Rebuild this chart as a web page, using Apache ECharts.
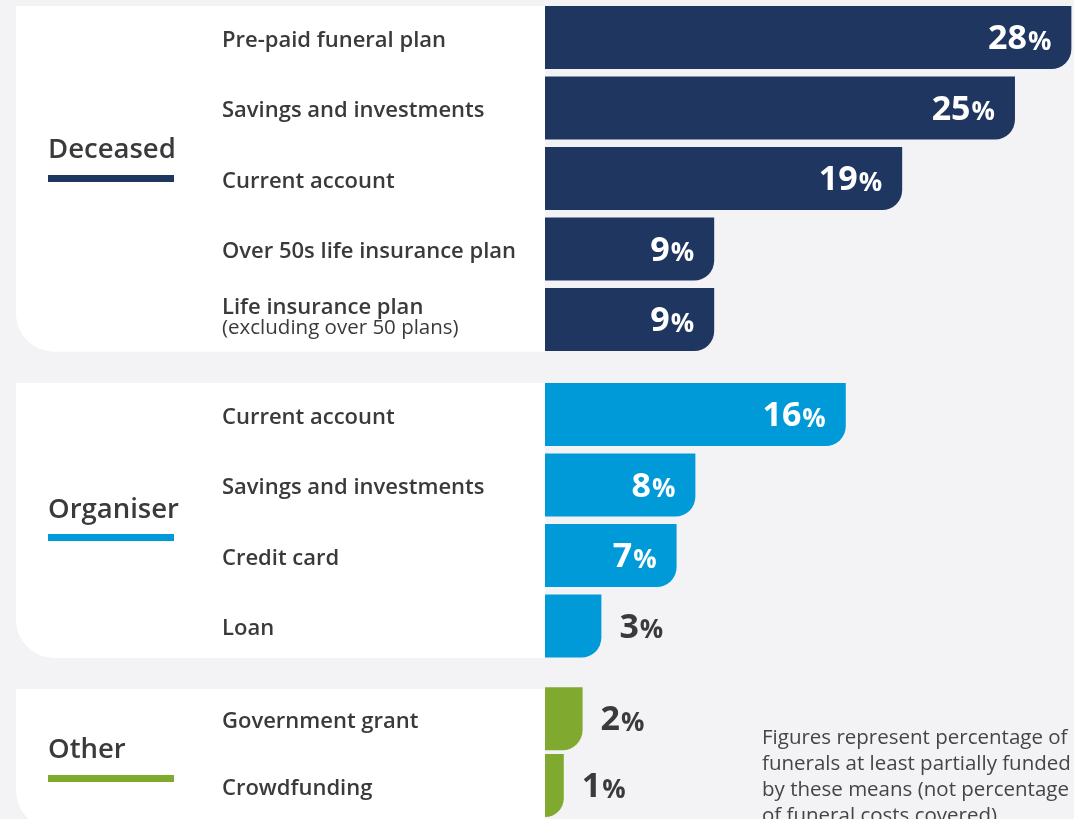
<!DOCTYPE html>
<html>
<head>
<meta charset="utf-8">
<script src="https://cdn.jsdelivr.net/npm/echarts@6/dist/echarts.min.js"></script>
<style>html,body{margin:0;padding:0;background:#f3f3f6;}#c{width:1074px;height:819px;}</style>
</head>
<body>
<div id="c"></div>
<script>
const groupNames = ['Deceased', 'Organiser', 'Other'];
const deceasedCats = ['Pre-paid funeral plan', 'Savings and investments', 'Current account', 'Over 50s life insurance plan', 'Life insurance plan\n(excluding over 50 plans)'];
const deceasedVals = [28, 25, 19, 9, 9];
const organiserCats = ['Current account', 'Savings and investments', 'Credit card', 'Loan'];
const organiserVals = [16, 8, 7, 3];
const otherCats = ['Government grant', 'Crowdfunding'];
const otherVals = [2, 1];
const groupColors = ['#1f3661', '#009ad9', '#80aa2f'];
const footnote = 'Figures represent percentage of\nfunerals at least partially funded\nby these means (not percentage\nof funeral costs covered)';

const FONT = '"Open Sans", sans-serif';
const TXT = '#3a3a3a';
const cats = [deceasedCats, organiserCats, otherCats];
const vals = [deceasedVals, organiserVals, otherVals];
const slot = 70.5;
const gridTops = [2.25, 379.25, 685.25];
const panels = [[6, 345.7], [383, 275], [689, 140]];
const titleY = [148, 508, 748];
const lineY = [175, 534, 775];

const chart = echarts.init(document.getElementById('c'), null, {renderer: 'canvas'});

const grids = [], xAxes = [], yAxes = [], series = [], graphics = [];
cats.forEach((c, i) => {
  grids.push({left: 545, right: 0, top: gridTops[i], height: slot * c.length, containLabel: false});
  xAxes.push({type: 'value', gridIndex: i, min: 0, max: 28.14, show: false});
  yAxes.push({
    type: 'category', gridIndex: i, data: c, inverse: true,
    axisLine: {show: false}, axisTick: {show: false}, splitLine: {show: false},
    axisLabel: {
      align: 'left', margin: 323, color: TXT, fontFamily: FONT,
      formatter: function (v) {
        const parts = v.split('\n');
        return parts.length > 1 ? '{c|' + parts[0] + '}\n{b|' + parts[1] + '}' : '{a|' + v + '}';
      },
      rich: {
        a: {fontSize: 22, fontWeight: 600, color: TXT, fontFamily: FONT, lineHeight: 24, padding: [6, 0, 0, 0]},
        c: {fontSize: 22, fontWeight: 600, color: TXT, fontFamily: FONT, lineHeight: 24},
        b: {fontSize: 20.5, fontWeight: 400, color: TXT, fontFamily: FONT, lineHeight: 24, padding: [0, 0, 6, 0]}
      }
    }
  });
  series.push({
    type: 'bar', xAxisIndex: i, yAxisIndex: i, barWidth: 63,
    itemStyle: {color: groupColors[i], borderRadius: [0, 0, 20, 0]},
    data: vals[i].map(v => ({
      value: v,
      label: v >= 5
        ? {position: 'insideRight', distance: 20, color: '#fff'}
        : {position: 'right', distance: 18, color: TXT}
    })),
    label: {
      show: true, fontFamily: FONT,
      formatter: p => '{n|' + p.value + '}{p|%}',
      rich: {
        n: {fontSize: 34, fontWeight: 700, fontFamily: FONT, verticalAlign: 'bottom', lineHeight: 38},
        p: {fontSize: 26, fontWeight: 700, fontFamily: FONT, verticalAlign: 'bottom', lineHeight: 38, padding: [0, 0, 1, 1]}
      }
    }
  });
  graphics.push({
    type: 'rect', z: -10, silent: true,
    shape: {x: 16, y: panels[i][0], width: 529, height: panels[i][1], r: [0, 0, 0, 38]},
    style: {fill: '#ffffff'}
  });
  graphics.push({
    type: 'text', z: 10, left: 48, top: titleY[i] - 12,
    style: {text: groupNames[i], fill: TXT, font: '600 27.5px ' + FONT}
  });
  graphics.push({
    type: 'rect', z: 10,
    shape: {x: 48, y: lineY[i], width: 126, height: 7},
    style: {fill: groupColors[i]}
  });
});
graphics.push({
  type: 'text', z: 10, left: 762, top: 725,
  style: {text: footnote, fill: '#454545', font: '400 20.5px ' + FONT, lineHeight: 26}
});

chart.setOption({
  backgroundColor: '#f3f3f6',
  animation: false,
  grid: grids, xAxis: xAxes, yAxis: yAxes, series: series, graphic: graphics
});
</script>
</body>
</html>
